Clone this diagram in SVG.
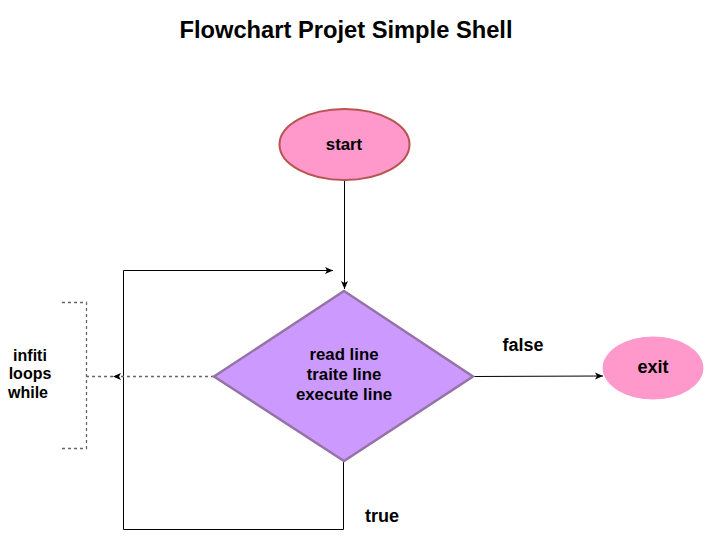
<svg xmlns="http://www.w3.org/2000/svg" width="705" height="539" viewBox="0 0 705 539">
<style>
text{font-family:"Liberation Sans",Arial,sans-serif;font-weight:bold;fill:#000;text-anchor:middle}
.t16{font-size:16px}
.t17{font-size:16.8px}
.t18{font-size:18px}
.edge{fill:none;stroke:#000;stroke-width:1}
.dash{fill:none;stroke:#666;stroke-width:1.3;stroke-dasharray:3 3}
</style>
<defs>
<marker id="arr" markerWidth="10" markerHeight="10" refX="9" refY="5" orient="auto" markerUnits="userSpaceOnUse">
<path d="M1,1.5 L9,5 L1,8.5 L3,5 Z" fill="#000"/>
</marker>
</defs>
<rect width="705" height="539" fill="#fff"/>
<text x="346" y="38" style="font-size:23.7px">Flowchart Projet Simple Shell</text>
<g id="connectors">
<path class="edge" d="M344.5,180 L344.5,289" marker-end="url(#arr)"/>
<path class="edge" d="M343.5,462 L343.5,529.5 L123.5,529.5 L123.5,270.5 L333,270.5" marker-end="url(#arr)"/>
<path class="edge" d="M473,376.5 L603,376" marker-end="url(#arr)"/>
<path class="dash" d="M214,376.5 L113,376.5"/>
<path d="M121,373 L113,376.5 L121,380 L119,376.5 Z" fill="#000"/>
<path class="dash" d="M113,376.5 L86,376.5"/>
</g>
<g id="start">
<ellipse cx="344.5" cy="144.5" rx="65" ry="35.5" fill="#ff99cc" stroke="#b85450" stroke-width="2"/>
<text class="t17" x="344" y="150">start</text>
</g>
<g id="process">
<polygon points="344,291 473,376.5 344,461 214,376.5" fill="#cc99ff" stroke="#9673a6" stroke-width="2.5"/>
<text class="t17" x="344" y="360">read line</text>
<text class="t17" x="344" y="380">traite line</text>
<text class="t17" x="344" y="400">execute line</text>
</g>
<g id="exit">
<ellipse cx="653" cy="368" rx="50" ry="31" fill="#ff99cc" stroke="#ff99cc" stroke-width="1"/>
<text class="t18" x="653" y="373">exit</text>
</g>
<g id="bracket">
<path class="dash" d="M62,302.5 L86.5,302.5 L86.5,448.5 L62,448.5"/>
<text class="t16" x="30" y="361">infiti</text>
<text class="t16" x="30" y="379">loops</text>
<text class="t16" x="28" y="398">while</text>
</g>
<text class="t18" x="523" y="351">false</text>
<text class="t18" x="382" y="522">true</text>
</svg>
